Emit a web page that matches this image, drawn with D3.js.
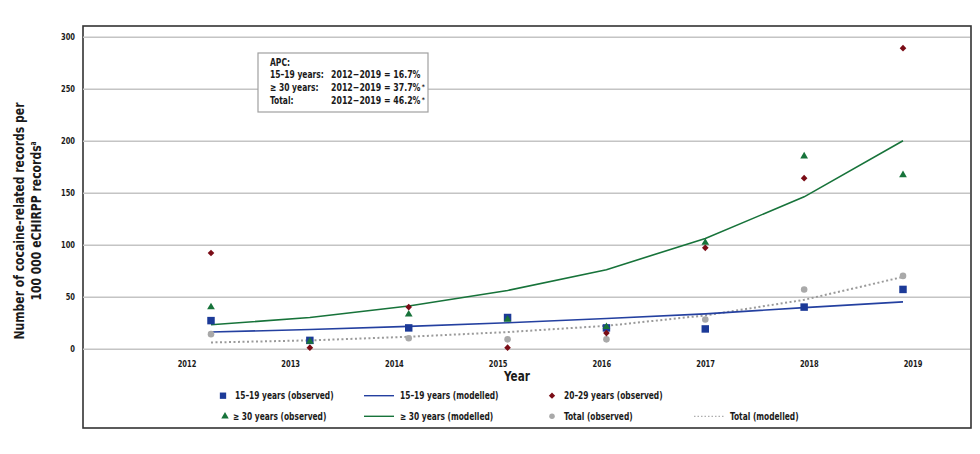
<!DOCTYPE html>
<html>
<head>
<meta charset="utf-8">
<script src="https://cdn.jsdelivr.net/npm/d3@7"></script>
<style>
  body { margin: 0; background: #fff; }
  svg { display: block; }
  text { font-family: 'DejaVu Sans Condensed', 'DejaVu Sans', sans-serif; font-weight: bold; fill: #1a1a1a; }
</style>
</head>
<body>
<svg id="chart" width="980" height="454"></svg>
<script>
// data
const years = [2012, 2013, 2014, 2015, 2016, 2017, 2018, 2019];
const yTicks = [0, 50, 100, 150, 200, 250, 300];

const teenObserved = [27, 8, 20, 30, 20, 19, 40, 57];
const teenModelled = [16, 18.5, 21.5, 25, 29, 33.5, 39.5, 45];
const twentiesObserved = [92, 1, 40, 1, 15, 97, 164, 289];
const thirtyObserved = [40, 7, 33, 28, 21, 102, 185, 167];
const thirtyModelled = [23, 30, 41, 56, 76, 106, 146, 200];
const totalObserved = [14, 8, 10, 9, 9, 28, 57, 70];
const totalModelled = [6, 8, 11.5, 16, 22, 32, 47, 69];

const apcLines = [
  ['APC:', '', ''],
  ['15\u201319 years:', '2012\u22122019 = 16.7%', ''],
  ['\u2265 30 years:', '2012\u22122019 = 37.7%', '*'],
  ['Total:', '2012\u22122019 = 46.2%', '*']
];

const squeeze = 0.83;

const svg = d3.select('#chart');

const frame = { left: 83, top: 26, right: 971, bottom: 428 };

const yScale = d3.scaleLinear()
  .domain([0, 300])
  .range([348.7, 36.7]);

// year labels and the markers sit on slightly different spacings in the original
const xLabel = d3.scaleLinear()
  .domain([2012, 2019])
  .range([187, 913]);

const xPoint = d3.scaleLinear()
  .domain([2012, 2019])
  .range([211, 903]);

// outer frame
svg.append('rect')
  .attr('x', frame.left)
  .attr('y', frame.top)
  .attr('width', frame.right - frame.left)
  .attr('height', frame.bottom - frame.top)
  .attr('fill', 'none')
  .attr('stroke', '#333')
  .attr('stroke-width', 1.6);

// horizontal grid lines
svg.append('g')
  .attr('transform', `translate(${frame.left}, 0)`)
  .call(d3.axisLeft(yScale)
    .tickValues(yTicks)
    .tickSize(-(frame.right - frame.left - 1))
    .tickFormat(''))
  .call(g => g.select('.domain').remove())
  .call(g => g.selectAll('line').attr('stroke', '#c4c4c4').attr('stroke-width', 1.4));

// y tick labels
svg.append('g')
  .selectAll('text')
  .data(yTicks)
  .enter()
  .append('text')
  .attr('x', 75)
  .attr('y', d => yScale(d))
  .attr('dy', '0.35em')
  .attr('text-anchor', 'end')
  .style('font-size', '9px')
  .text(d => d);

// x tick labels
svg.append('g')
  .selectAll('text')
  .data(years)
  .enter()
  .append('text')
  .attr('x', d => xLabel(d))
  .attr('y', 364)
  .attr('dy', '0.35em')
  .attr('text-anchor', 'middle')
  .style('font-size', '9px')
  .text(d => d);

svg.append('text')
  .attr('x', 517)
  .attr('y', 376)
  .attr('dy', '0.35em')
  .attr('text-anchor', 'middle')
  .style('font-size', '14px')
  .text('Year');

// y axis title
const yTitle = svg.append('text')
  .attr('transform', 'translate(0, 221) rotate(-90)')
  .attr('text-anchor', 'middle')
  .style('font-size', '14.5px');
yTitle.append('tspan')
  .attr('x', 0)
  .attr('y', 24)
  .text('Number of cocaine-related records per');
yTitle.append('tspan')
  .attr('x', 0)
  .attr('y', 41)
  .text('100 000 eCHIRPP records');
yTitle.append('tspan')
  .attr('dy', -5)
  .style('font-size', '8px')
  .text('a');

// modelled lines
const line = (vals) => d3.line()
  .x((d, i) => xPoint(years[i]))
  .y(d => yScale(d))(vals);

svg.append('path')
  .attr('d', line(totalModelled))
  .attr('fill', 'none')
  .attr('stroke', '#9a9a9a')
  .attr('stroke-width', 2)
  .attr('stroke-dasharray', '2,2.5');

svg.append('path')
  .attr('d', line(teenModelled))
  .attr('fill', 'none')
  .attr('stroke', '#2440a0')
  .attr('stroke-width', 1.6);

svg.append('path')
  .attr('d', line(thirtyModelled))
  .attr('fill', 'none')
  .attr('stroke', '#17733a')
  .attr('stroke-width', 1.6);

// observed markers
const sym = (type, size) => d3.symbol().type(type).size(size)();

const markers = [
  { vals: totalObserved, shape: sym(d3.symbolCircle, 34), color: '#a9a9a9', rot: 0 },
  { vals: teenObserved, shape: sym(d3.symbolSquare, 56), color: '#1c3a98', rot: 0 },
  { vals: thirtyObserved, shape: sym(d3.symbolTriangle, 26), color: '#17733a', rot: 0 },
  { vals: twentiesObserved, shape: sym(d3.symbolSquare, 22), color: '#7a0c16', rot: 45 }
];

markers.forEach(m => {
  svg.append('g')
    .selectAll('path')
    .data(m.vals)
    .enter()
    .append('path')
    .attr('d', m.shape)
    .attr('fill', m.color)
    .attr('transform', (d, i) => `translate(${xPoint(years[i])}, ${yScale(d)}) rotate(${m.rot})`);
});

// legend
const legendItems = [
  { label: '15\u201319 years (observed)', kind: 'marker', shape: sym(d3.symbolSquare, 40), color: '#1c3a98', rot: 0, x: 223, row: 0 },
  { label: '15\u201319 years (modelled)', kind: 'line', color: '#2440a0', x: 364, row: 0 },
  { label: '20\u201329 years (observed)', kind: 'marker', shape: sym(d3.symbolSquare, 20), color: '#7a0c16', rot: 45, x: 552, row: 0 },
  { label: '\u2265 30 years (observed)', kind: 'marker', shape: sym(d3.symbolTriangle, 24), color: '#17733a', rot: 0, x: 225, row: 1 },
  { label: '\u2265 30 years (modelled)', kind: 'line', color: '#17733a', x: 364, row: 1 },
  { label: 'Total (observed)', kind: 'marker', shape: sym(d3.symbolCircle, 24), color: '#a9a9a9', rot: 0, x: 552, row: 1 },
  { label: 'Total (modelled)', kind: 'dots', color: '#9a9a9a', x: 694, row: 1 }
];

const legend = svg.append('g');
legendItems.forEach(it => {
  const y = 395.7 + it.row * 20.6;
  if (it.kind === 'marker') {
    legend.append('path')
      .attr('d', it.shape)
      .attr('fill', it.color)
      .attr('transform', `translate(${it.x}, ${y}) rotate(${it.rot})`);
    legend.append('text')
      .attr('x', it.x + (it.row === 1 && it.x < 300 ? 8 : 12))
      .attr('y', y)
      .attr('dy', '0.35em')
      .style('font-size', '10px')
      .text(it.label);
  } else {
    legend.append('line')
      .attr('x1', it.x)
      .attr('x2', it.x + 30)
      .attr('y1', y)
      .attr('y2', y)
      .attr('stroke', it.color)
      .attr('stroke-width', it.kind === 'dots' ? 1 : 1.4)
      .attr('stroke-dasharray', it.kind === 'dots' ? '1.5,2' : null);
    legend.append('text')
      .attr('x', it.x + 36)
      .attr('y', y)
      .attr('dy', '0.35em')
      .style('font-size', '10px')
      .text(it.label);
  }
});

// the original face is a narrow one: squeeze every label horizontally
svg.selectAll('text').each(function () {
  const w = this.getComputedTextLength();
  d3.select(this)
    .attr('textLength', w * squeeze)
    .attr('lengthAdjust', 'spacingAndGlyphs');
});

// APC box (squeezed per tspan so the asterisks stay superscripts)
const box = svg.append('g').attr('transform', 'translate(258, 53)');
box.append('rect')
  .attr('width', 170)
  .attr('height', 59)
  .attr('fill', '#fff')
  .attr('stroke', '#a0a0a0')
  .attr('stroke-width', 1.2);

apcLines.forEach((row, i) => {
  const y = 9 + i * 12.7;
  const a = box.append('text')
    .attr('x', 12)
    .attr('y', y)
    .attr('dy', '0.35em')
    .style('font-size', '10.5px')
    .text(row[0]);
  a.attr('textLength', a.node().getComputedTextLength() * 0.8)
    .attr('lengthAdjust', 'spacingAndGlyphs');
  if (!row[1]) return;
  const b = box.append('text')
    .attr('x', 73)
    .attr('y', y)
    .attr('dy', '0.35em')
    .style('font-size', '10.5px');
  const main = b.append('tspan').text(row[1]);
  main.attr('textLength', main.node().getComputedTextLength() * squeeze)
    .attr('lengthAdjust', 'spacingAndGlyphs');
  if (row[2]) {
    b.append('tspan')
      .attr('dx', 1.2)
      .attr('dy', -2)
      .style('font-size', '6.5px')
      .text(row[2]);
  }
});
</script>
</body>
</html>
